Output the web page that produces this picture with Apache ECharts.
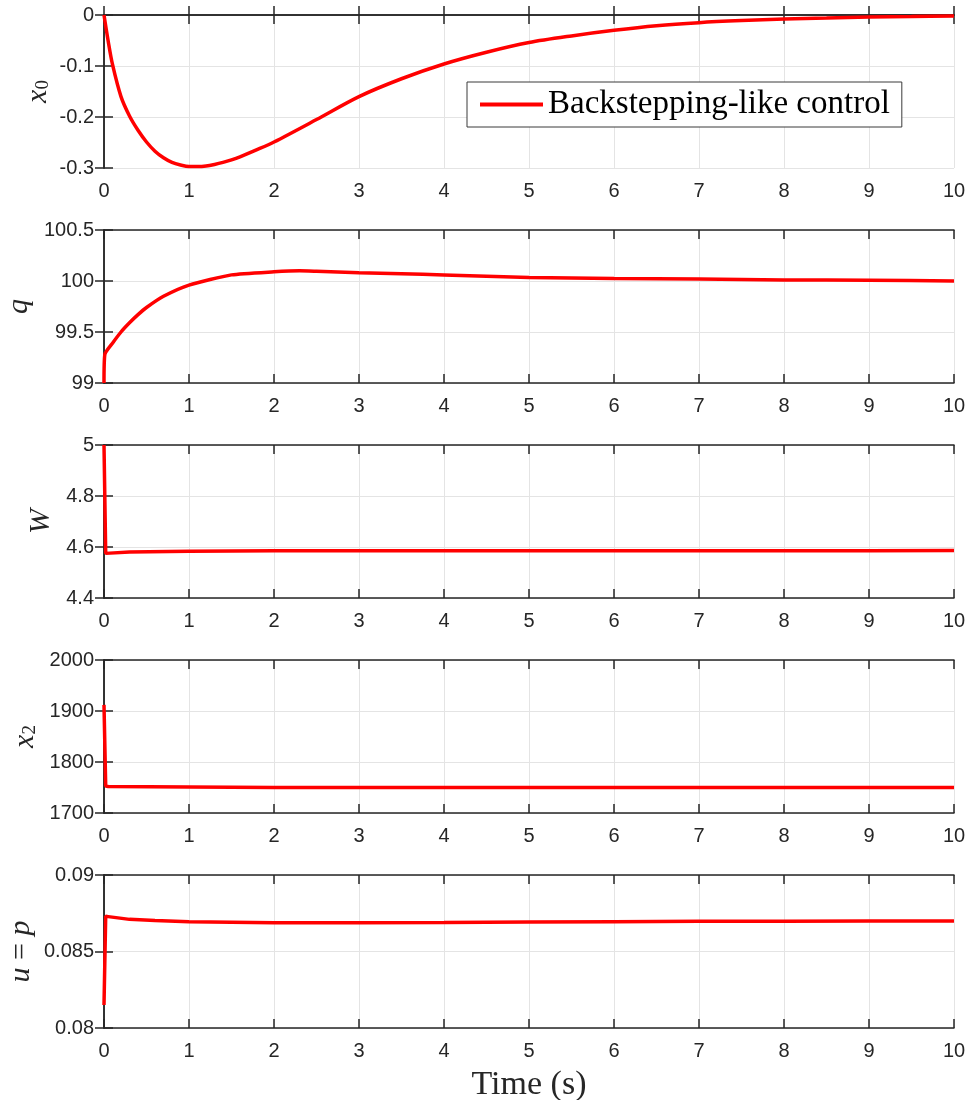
<!DOCTYPE html>
<html>
<head>
	<meta charset="utf-8" />
	<title>Backstepping-like control</title>
	<script type="text/javascript" src="https://cdn.jsdelivr.net/npm/echarts@6/dist/echarts.min.js"></script>
	<style type="text/css">
		html, body{ margin:0; padding:0; background:#fff; }
		#container{ width:970px; height:1100px; }
	</style>
</head>
<body>
<div id="container"></div>
<script type="text/javascript">
	// values
	var legendName = 'Backstepping-like control';
	var xTicks = [0, 1, 2, 3, 4, 5, 6, 7, 8, 9, 10];

	var x0Time = [0, 0.05, 0.1, 0.2, 0.3, 0.4, 0.5, 0.6, 0.7, 0.8, 0.9, 1.0, 1.1, 1.2, 1.3, 1.4, 1.5, 1.6, 1.8, 2.0, 2.5, 3.0, 3.5, 4.0, 4.5, 5.0, 5.5, 6.0, 6.5, 7.0, 7.5, 8.0, 8.5, 9.0, 9.5, 10];
	var x0Vals = [0, -0.052, -0.097, -0.16, -0.198, -0.226, -0.249, -0.267, -0.28, -0.289, -0.294, -0.297, -0.297, -0.296, -0.293, -0.289, -0.284, -0.278, -0.264, -0.249, -0.205, -0.16, -0.125, -0.096, -0.073, -0.054, -0.041, -0.03, -0.021, -0.015, -0.011, -0.008, -0.006, -0.004, -0.003, -0.002];

	var qTime = [0, 0.01, 0.1, 0.2, 0.3, 0.4, 0.5, 0.7, 1.0, 1.5, 2.0, 2.3, 2.5, 3.0, 3.5, 4.0, 5.0, 6.0, 7.0, 8.0, 9.0, 10];
	var qVals = [99.0, 99.28, 99.39, 99.5, 99.59, 99.67, 99.74, 99.85, 99.96, 100.06, 100.09, 100.1, 100.095, 100.08, 100.07, 100.06, 100.035, 100.025, 100.02, 100.01, 100.008, 100.0];

	var wTime = [0, 0.02, 0.04, 0.3, 1, 2, 3, 4, 5, 6, 7, 8, 9, 10];
	var wVals = [5.0, 4.575, 4.575, 4.58, 4.583, 4.585, 4.585, 4.585, 4.585, 4.585, 4.585, 4.585, 4.585, 4.586];

	var x2Time = [0, 0.02, 0.05, 1, 2, 3, 4, 5, 6, 7, 8, 9, 10];
	var x2Vals = [1912, 1753, 1752, 1751, 1750, 1750, 1750, 1750, 1750, 1750, 1750, 1750, 1750];

	var uTime = [0, 0.02, 0.05, 0.3, 0.6, 1, 2, 3, 4, 5, 6, 7, 8, 9, 10];
	var uVals = [0.0815, 0.0873, 0.08728, 0.0871, 0.08702, 0.08695, 0.08688, 0.08688, 0.0869, 0.08693, 0.08695, 0.08697, 0.08698, 0.08699, 0.087];

	// per-panel y axis ranges and names
	var yMin = [-0.3, 99, 4.4, 1700, 0.08];
	var yMax = [0, 100.5, 5, 2000, 0.09];
	var yStep = [0.1, 0.5, 0.2, 100, 0.005];
	var yNames = ['{i|x}{s|0}', '{i|q}', '{i|W}', '{i|x}{s|2}', '{i|u}{n| = }{i|p}'];
	var yNameGap = [51, 70, 48, 64, 68];

	var panelTimes = [x0Time, qTime, wTime, x2Time, uTime];
	var panelVals = [x0Vals, qVals, wVals, x2Vals, uVals];
	var panelSmooth = [0.3, 0.2, 0, 0, 0];

	var tops = [15, 230, 445, 660, 875];
	var ink = '#262626';
	var serif = "'Liberation Serif', serif";
	var sans = "'Liberation Sans', Arial, sans-serif";

	function pairs(ts, vs){
		var out = [];
		for(var k = 0 ; k < ts.length ; k++){
			out.push([ts[k], vs[k]]);
		}
		return out;
	}

	function plain(v){
		return String(+v.toFixed(6));
	}

	var grids = [], xAxes = [], yAxes = [], series = [];

	for(var i = 0 ; i < 5 ; i++){
		grids.push({ left:104, right:16, top:tops[i], height:153, containLabel:false, outerBoundsMode:'none' });

		var xa = {
			type:'value', gridIndex:i, position:'bottom',
			min:xTicks[0], max:xTicks[xTicks.length - 1], interval:1,
			axisLine:{ lineStyle:{ color:ink, width:1.5 } },
			axisTick:{ inside:true, length:9, lineStyle:{ color:ink, width:1.5 } },
			axisLabel:{ color:ink, fontSize:20, fontFamily:sans, margin:13, formatter:plain },
			splitLine:{ show:true, lineStyle:{ color:'#e4e4e4', width:1 } }
		};
		if(i == 4){
			xa.name = 'Time (s)';
			xa.nameLocation = 'middle';
			xa.nameGap = 40;
			xa.nameMoveOverlap = false;
			xa.nameTextStyle = { fontFamily:serif, fontSize:34, color:ink };
		}
		xAxes.push(xa);
		xAxes.push({
			type:'value', gridIndex:i, position:'top',
			min:xTicks[0], max:xTicks[xTicks.length - 1], interval:1,
			axisLine:{ lineStyle:{ color:ink, width:1.5 } },
			axisTick:{ inside:true, length:9, lineStyle:{ color:ink, width:1.5 } },
			axisLabel:{ show:false },
			splitLine:{ show:false }
		});

		yAxes.push({
			type:'value', gridIndex:i, position:'left',
			min:yMin[i], max:yMax[i], interval:yStep[i],
			name:yNames[i], nameLocation:'middle', nameRotate:90, nameGap:yNameGap[i],
			nameMoveOverlap:false,
			nameTextStyle:{
				fontFamily:serif, fontSize:30, color:ink,
				rich:{
					i:{ fontFamily:serif, fontStyle:'italic', fontSize:30, color:ink },
					s:{ fontFamily:serif, fontSize:19, color:ink, padding:[10, 0, 0, 0] },
					n:{ fontFamily:serif, fontSize:30, color:ink }
				}
			},
			axisLine:{ show:true, lineStyle:{ color:ink, width:1.5 } },
			axisTick:{ show:true, inside:true, length:9, lineStyle:{ color:ink, width:1.5 } },
			axisLabel:{ color:ink, fontSize:20, fontFamily:sans, margin:10, formatter:plain },
			splitLine:{ show:true, lineStyle:{ color:'#e4e4e4', width:1 } }
		});
		yAxes.push({
			type:'value', gridIndex:i, position:'right',
			min:yMin[i], max:yMax[i], interval:yStep[i],
			axisLine:{ show:true, lineStyle:{ color:ink, width:1.5 } },
			axisTick:{ show:true, inside:true, length:9, lineStyle:{ color:ink, width:1.5 } },
			axisLabel:{ show:false },
			splitLine:{ show:false }
		});

		series.push({
			name:(i == 0 ? legendName : 'panel' + i),
			type:'line',
			xAxisIndex:2 * i,
			yAxisIndex:2 * i,
			data:pairs(panelTimes[i], panelVals[i]),
			showSymbol:false,
			symbol:'none',
			smooth:panelSmooth[i] > 0 ? panelSmooth[i] : false,
			lineStyle:{ color:'#ff0000', width:3.5 },
			itemStyle:{ color:'#ff0000' },
			animation:false
		});
	}

	var chart = echarts.init(document.getElementById('container'));

	chart.setOption({
		backgroundColor:'#ffffff',
		animation:false,
		grid:grids,
		xAxis:xAxes,
		yAxis:yAxes,
		legend:{
			data:[legendName],
			left:467, top:82,
			icon:'rect',
			itemWidth:63, itemHeight:4,
			padding:[5, 12, 5, 13],
			borderColor:'#3a3a3a', borderWidth:1,
			backgroundColor:'#ffffff',
			textStyle:{ fontFamily:serif, fontSize:33, color:'#000', lineHeight:35 }
		},
		series:series
	});
</script>
</body>
</html>
